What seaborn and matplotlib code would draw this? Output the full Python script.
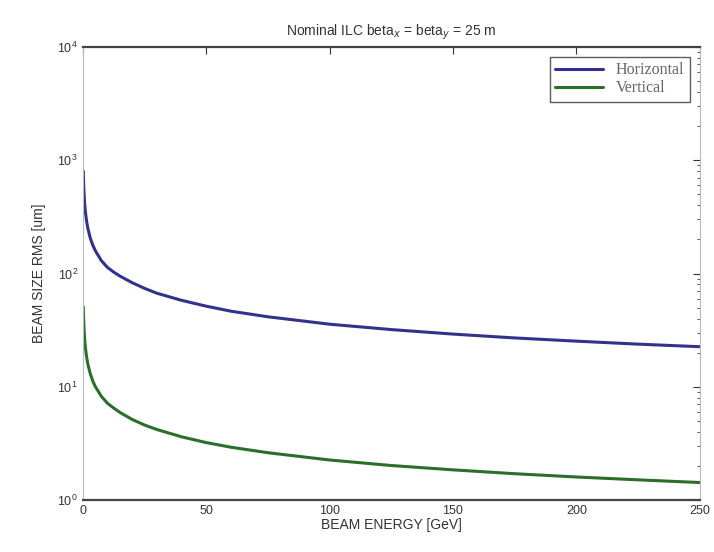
import numpy as np
import pandas as pd
import matplotlib
matplotlib.use("Agg")
import matplotlib.pyplot as plt
import seaborn as sns

# values (beam energy in GeV, rms beam size in um)
energy = [0.2, 0.3, 0.5, 0.75, 1, 1.5, 2, 3, 4, 5, 7.5, 10, 12.5, 15, 20, 25,
          30, 40, 50, 60, 75, 100, 125, 150, 175, 200, 225, 250]
horizontal = [800, 652, 505, 412, 357, 292, 253, 206, 179, 160, 130, 113, 103,
              95, 83, 74, 67, 58, 51.5, 46.5, 41.5, 35.7, 32, 29.2, 27, 25.3,
              23.8, 22.6]
vertical = [50.6, 41.3, 32, 26.1, 22.6, 18.5, 16, 13.1, 11.3, 10.1, 8.25, 7.15,
            6.5, 5.95, 5.15, 4.6, 4.2, 3.62, 3.22, 2.93, 2.62, 2.26, 2.02, 1.85,
            1.71, 1.60, 1.51, 1.43]
series = ["Horizontal", "Vertical"]
colors = ["#32328c", "#2a6e2a"]

df = pd.DataFrame({
    "energy": energy * 2,
    "size": horizontal + vertical,
    "plane": [series[0]] * len(energy) + [series[1]] * len(energy),
})

sns.set_style("white")
plt.rcParams["font.family"] = ["Liberation Sans", "DejaVu Sans"]

fig = plt.figure(figsize=(7.14, 5.52), dpi=100)
ax = fig.add_axes([0.116, 0.094, 0.864, 0.821])

sns.lineplot(data=df, x="energy", y="size", hue="plane", hue_order=series,
             palette=colors, linewidth=2.2, ax=ax)

ax.set_yscale("log")
ax.set_xlim(0, 250)
ax.set_ylim(1, 1e4)
ax.set_xticks([0, 50, 100, 150, 200, 250])
ax.tick_params(which="both", direction="in", top=True, right=True,
               labelsize=9, colors="#333333")
ax.tick_params(which="major", length=5)
ax.tick_params(which="minor", length=2.5)

for s in ["top", "bottom"]:
    ax.spines[s].set_color("#444444")
    ax.spines[s].set_linewidth(1.6)
for s in ["left", "right"]:
    ax.spines[s].set_color("#bbbbbb")
    ax.spines[s].set_linewidth(0.8)

ax.set_title(r"Nominal ILC beta$_x$ = beta$_y$ = 25 m", fontsize=10, pad=8,
             color="#333333")
ax.set_xlabel("BEAM ENERGY [GeV]", fontsize=10, labelpad=1, color="#333333")
ax.set_ylabel("BEAM SIZE RMS [um]", fontsize=10, labelpad=8, color="#333333")

leg = ax.legend(loc="upper right", frameon=True, fancybox=False,
                prop={"family": "Liberation Serif", "size": 11.5},
                handlelength=3.0, borderaxespad=0.6, labelspacing=0.15,
                borderpad=0.35)
leg.get_frame().set_edgecolor("#333333")
leg.get_frame().set_linewidth(1.0)
for t in leg.get_texts():
    t.set_color("#666666")

fig.savefig("out.png", dpi=100)
